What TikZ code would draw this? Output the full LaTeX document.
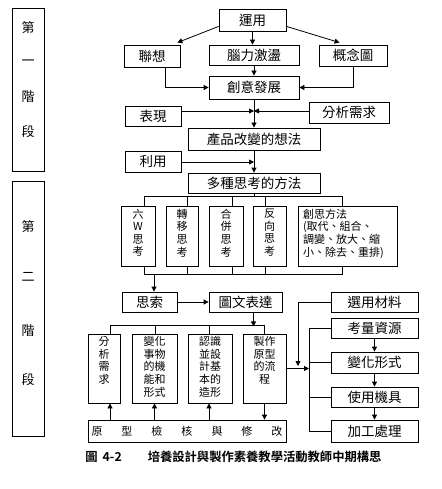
\documentclass[tikz,border=0pt]{standalone}
\usepackage{fontspec}
\setmainfont[BoldFont={Noto Sans CJK TC Bold}]{Noto Sans CJK TC}
\usetikzlibrary{arrows.meta,calc}
\newcommand\bx[7]{\node[#7, minimum width={(#4-#2)*1pt}, minimum height={(#5-#3)*1pt}] (#1) at ({(#2+#4)/2},{(#3+#5)/2}) {#6};}
\newcommand\tbx[8]{\node[#6, minimum width={(#4-#2)*1pt}, minimum height={(#5-#3)*1pt}] (#1) at ({(#2+#4)/2},{(#3+#5)/2}) {\parbox[c][\dimexpr#5pt-#3pt\relax][t]{\dimexpr#4pt-#2pt\relax}{\vspace*{#7}#8}};}
\begin{document}
\begin{tikzpicture}[x=1pt,y=-1pt, line width=0.8pt,
  box/.style={draw, inner sep=0pt, font=\fontsize{13.5}{15}\selectfont},
  sbox/.style={draw, inner sep=0pt, font=\fontsize{11}{12.6}\selectfont},
  arr/.style={-{Triangle[length=5pt,width=5pt]}},
  lab/.style={inner sep=0pt, font=\fontsize{13}{15}\selectfont}]
\useasboundingbox (0,0) rectangle (441,489);
\fill[white] (0,0) rectangle (441,489);
% stage boxes
\bx{s1}{12}{8}{44}{171}{}{box}
\bx{s2}{12}{181}{44}{436}{}{box}
\node[lab] (s1a) at (28,28) {第};
\node[lab] (s1b) at (28,63) {一};
\node[lab] (s1c) at (28,97) {階};
\node[lab] (s1d) at (28,132) {段};
\node[lab] (s2a) at (28,227) {第};
\node[lab] (s2b) at (28,277) {二};
\node[lab] (s2c) at (28,331) {階};
\node[lab] (s2d) at (28,380) {段};
% top part
\bx{yy}{219}{9}{286}{31}{運用}{box}
\bx{lx}{124}{45}{180}{67}{聯想}{box}
\bx{nl}{209}{45}{299}{65}{腦力激盪}{box}
\bx{gn}{319}{45}{387}{66}{概念圖}{box}
\bx{cy}{209}{76}{299}{99}{創意發展}{box}
\bx{bx}{125}{106}{181}{126}{表現}{box}
\bx{fx}{309}{102}{389}{123}{分析需求}{box}
\bx{cp}{188}{128}{320}{150}{產品改變的想法}{box}
\bx{ly}{125}{151}{181}{172}{利用}{box}
\bx{dz}{188}{173}{320}{193}{多種思考的方法}{box}
% methods
\tbx{m1}{121}{206}{155}{266}{sbox}{3pt}{\centering 六\\W\\思\\考}
\tbx{m2}{166}{206}{198}{266}{sbox}{3pt}{\centering 轉\\移\\思\\考}
\tbx{m3}{209}{206}{243}{266}{sbox}{3pt}{\centering 合\\併\\思\\考}
\tbx{m4}{253}{206}{286}{266}{sbox}{3pt}{\centering 反\\向\\思\\考}
\tbx{m5}{298}{206}{397}{266}{sbox}{3pt}{\raggedright\leftskip=5pt 創思方法\\(取代、組合、\\調變、放大、縮\\小、除去、重排)}
% middle
\bx{ss}{122}{292}{177}{312}{思索}{box}
\bx{tw}{209}{292}{282}{312}{圖文表達}{box}
\tbx{p1}{88}{334}{120}{403}{sbox}{2.5pt}{\centering 分\\析\\需\\求}
\tbx{p2}{132}{334}{177}{403}{sbox}{2.5pt}{\centering 變化\\事物\\的機\\能和\\形式}
\tbx{p3}{188}{334}{232}{403}{sbox}{2.5pt}{\centering 認識\\並設\\計基\\本的\\造形}
\tbx{p4}{243}{334}{286}{403}{sbox}{2.5pt}{\centering 製作\\原型\\的流\\程}
\bx{yx}{88}{420}{286}{442}{\makebox[191pt][s]{原\hfill 型\hfill 檢\hfill 核\hfill 與\hfill 修\hfill 改}}{sbox}
% right
\bx{r1}{331}{292}{418}{312}{選用材料}{box}
\bx{r2}{331}{318}{418}{338}{考量資源}{box}
\bx{r3}{331}{352}{418}{373}{變化形式}{box}
\bx{r4}{331}{387}{418}{407}{使用機具}{box}
\bx{r5}{331}{420}{418}{442}{加工處理}{box}
% caption
\node[inner sep=0pt, anchor=west, font=\fontsize{12.3}{14}\selectfont\bfseries] (cap) at (85,457) {圖\hspace{5pt}4-2\hspace{26pt}培養設計與製作素養教學活動教師中期構思};
% connectors top
\draw[arr] (yy.south) -- (yy.south |- nl.north);
\draw[arr] ([yshift=5pt]yy.south west) -- ([xshift=-3pt,yshift=2pt]lx.north east);
\draw[arr] ([yshift=5pt]yy.south east) -- ([xshift=21pt,yshift=2pt]gn.north west);
\draw[arr] (nl.south) -- (cy.north);
\draw[arr] ([xshift=13pt]lx.south) |- (cy.west);
\draw[arr] (gn.south) |- (cy.east);
\draw[arr] (cy.south) -- (cp.north);
\coordinate (j1) at (254,111);
\draw[arr] (bx.east |- j1) -- (j1);
\draw[arr] (fx.west |- j1) -- (j1);
\draw[arr] (cp.south) -- (dz.north);
\coordinate (j2) at (254,162);
\draw[arr] (ly.east |- j2) -- (j2);
\draw (dz.south) -- ++(0,4);
% method buses
\draw ([xshift=6pt]m1.north) -- ++(0,-9) -| ([xshift=-5.5pt]m5.north);
\foreach \n/\s in {m2/5,m3/6,m4/-4.5} \draw ([xshift=\s pt]\n.north) -- ++(0,-9);
\draw ([xshift=6pt]m1.south) -- ++(0,8) -| ([xshift=-5.5pt]m5.south);
\foreach \n/\s in {m2/5,m3/6,m4/-4.5} \draw ([xshift=\s pt]\n.south) -- ++(0,8);
\coordinate (bb) at (154,274);
\draw[arr] (bb) -- (bb |- ss.north);
\draw[arr] (ss.east) -- (tw.west);
\draw[arr] ([xshift=8pt]tw.south) -- ++(0,14);
% lower bus
\draw ([xshift=6pt]p1.north) -- ++(0,-8) -| ([xshift=-0.5pt]p4.north);
\draw ([xshift=0.5pt]p2.north) -- ++(0,-8);
\draw ([xshift=-1pt]p3.north) -- ++(0,-8);
\draw[arr] ([xshift=6pt]p1.south |- yx.north) -- ([xshift=6pt]p1.south);
\draw[arr] (p2.south |- yx.north) -- (p2.south);
\draw[arr] ([xshift=-1pt]p3.south |- yx.north) -- ([xshift=-1pt]p3.south);
\draw[arr] (p4.south) -- (p4.south |- yx.north);
% right bracket
\coordinate (bk) at (309,0);
\draw (r2.west) -- (r2.west -| bk) -- (r5.west -| bk) -- (r5.west);
\draw (r3.west) -- (r3.west -| bk);
\draw (r4.west) -- (r4.west -| bk);
\draw[arr] (p4.east) -- (p4.east -| bk);
\coordinate (rj) at (298,366);
\draw[arr] (r1.west) -| (rj);
\draw[arr] (r2.south) -- (r3.north);
\draw[arr] (r3.south) -- (r4.north);
\draw[arr] (r4.south) -- (r5.north);
\end{tikzpicture}
\end{document}
